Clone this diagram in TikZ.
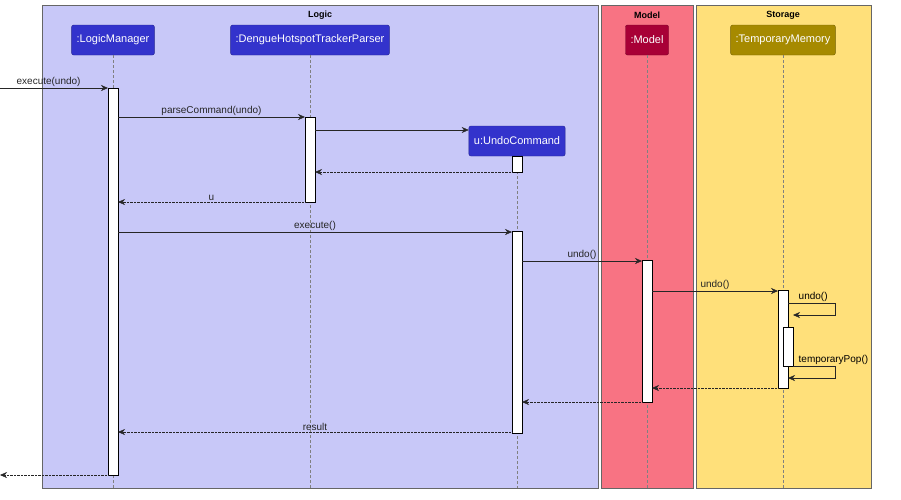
\documentclass[tikz,border=0pt]{standalone}
\usepackage{fontspec}
\setmainfont{Liberation Sans}
\usetikzlibrary{arrows.meta}

\tikzset{
  part/.style={draw=#1!70!black, fill=#1, rounded corners=2pt, text=white, minimum height=30pt, inner xsep=5pt, font=\fontsize{11}{13}\selectfont},
  grp/.style={draw=black!60, fill=#1},
  life/.style={densely dashed, black!50},
  act/.style={draw=black, fill=white},
  msg/.style={-{Stealth[length=7pt,width=6pt]}, black!85},
  ret/.style={msg, densely dotted},
  lbl/.style={font=\fontsize{10}{12}\selectfont, inner sep=1.5pt, above}
}
\definecolor{logicbg}{HTML}{C8C8F8}
\definecolor{modelbg}{HTML}{F87383}
\definecolor{storebg}{HTML}{FFE07A}
\definecolor{bluep}{HTML}{3333CC}
\definecolor{redp}{HTML}{A80036}
\definecolor{yelp}{HTML}{A68A00}

\begin{document}
\begin{tikzpicture}[x=1pt,y=-1pt]
    \useasboundingbox (0,0) rectangle (901,499);

    % Boxes
    \draw[grp=logicbg] (42,5) rectangle (598,488);
    \draw[grp=modelbg] (601,5) rectangle (693,488);
    \draw[grp=storebg] (696,5) rectangle (871,488);
    \node[font=\bfseries\small] (tlogic) at (320,15) {Logic};
    \node[font=\bfseries\small] (tmodel) at (647,15) {Model};
    \node[font=\bfseries\small] (tstore) at (783,15) {Storage};

    % Participants
    \node[part=bluep] (lm) at (113,40) {:LogicManager};
    \node[part=bluep] (parser) at (310,40) {:DengueHotspotTrackerParser};
    \node[part=bluep] (uc) at (517,141) {u:UndoCommand};
    \node[part=redp] (model) at (647,40) {:Model};
    \node[part=yelp] (mem) at (783,40) {:TemporaryMemory};

    % Lifelines
    \draw[life] (lm.south) -- (113,488);
    \draw[life] (parser.south) -- (310,488);
    \draw[life] (uc.south) -- (517,488);
    \draw[life] (model.south) -- (647,488);
    \draw[life] (mem.south) -- (783,488);

    % Activations
    \draw[act] (108,88) rectangle (118,475);
    \draw[act] (305,117) rectangle (315,202);
    \draw[act] (512,156) rectangle (522,172);
    \draw[act] (512,231) rectangle (522,433);
    \draw[act] (642,260) rectangle (652,402);
    \draw[act] (778,290) rectangle (788,388);
    \draw[act] (783,327) rectangle (793,366);

    % Messages
    \coordinate (in) at (0,88);
    \coordinate (out) at (0,475);
    \draw[msg] (in) -- node[lbl, pos=0.45] {execute(undo)} (108,88);
    \draw[msg] (118,117) -- node[lbl] {parseCommand(undo)} (305,117);
    \draw[msg] (315,130) -- (uc.west |- 0,130);
    \draw[ret] (512,172) -- (315,172);
    \draw[ret] (305,202) -- node[lbl] {u} (118,202);
    \draw[msg] (118,232) -- node[lbl] {execute()} (512,232);
    \draw[msg] (522,261) -- node[lbl, pos=0.5] {undo()} (642,261);
    \draw[msg] (652,291) -- node[lbl, pos=0.5] {undo()} (778,291);
    \draw[msg] (788,303) -- (835,303) -- (835,315) -- (793,315);
    \node[lbl, anchor=south west] (lundo) at (797,303) {undo()};
    \draw[msg] (793,366) -- (835,366) -- (835,378) -- (788,378);
    \node[lbl, anchor=south west] (lpop) at (797,366) {temporaryPop()};
    \draw[ret] (778,388) -- (652,388);
    \draw[ret] (642,402) -- (522,402);
    \draw[ret] (512,432) -- node[lbl] {result} (118,432);
    \draw[ret] (108,475) -- (out);
\end{tikzpicture}
\end{document}
